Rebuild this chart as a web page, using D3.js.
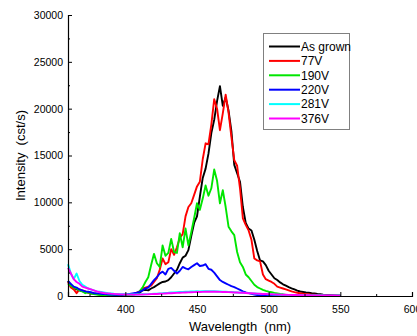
<!DOCTYPE html>
<html>
<head>
<meta charset="utf-8">
<script src="https://cdn.jsdelivr.net/npm/d3@7"></script>
<style>
  body { margin: 0; background: #fff; }
  svg { display: block; font-family: Arial, "Liberation Sans", sans-serif; }
</style>
</head>
<body>
<div id="chart"></div>
<script>
// sampling grid, nm
const wavelengths = d3.range(360, 551, 2);

const seriesNames = ['As grown', '77V', '190V', '220V', '281V', '376V'];
const seriesColors = ['#000000', '#ff0000', '#00e600', '#0000ff', '#00ffff', '#ff00ff'];

const asGrown = [
  1600, 1100, 900, 700, 600, 500, 450, 380, 300, 280,
  250, 200, 200, 150, 150, 120, 120, 100, 120, 100,
  120, 150, 150, 200, 300, 350, 600, 650, 600, 800,
  950, 1150, 1350, 1500, 1550, 1700, 2000, 2400, 2800, 3500,
  4100, 4300, 4900, 6400, 7800, 8500, 10600, 12600, 13600, 15200,
  17400, 18800, 20800, 22400, 20300, 21200, 19800, 17600, 14000, 13100,
  12200, 9500, 7800, 7200, 7000, 6000, 4800, 3800, 3700, 3300,
  2700, 2300, 1900, 1700, 1450, 1250, 1100, 950, 820, 700,
  580, 480, 430, 380, 350, 300, 280, 220, 200, 150,
  120, 100, 80, 60, 40, 30
];
const v77 = [
  1500, 900, 700, 300, 700, 600, 500, 350, 300, 250,
  220, 180, 150, 150, 120, 100, 100, 80, 100, 80,
  100, 120, 150, 200, 350, 500, 800, 900, 1000, 1100,
  1500, 1900, 2800, 4000, 3400, 3600, 5000, 4400, 5200, 6200,
  6600, 8500, 9500, 9900, 10800, 11700, 12200, 14600, 16300, 16200,
  18300, 21000, 20000, 17700, 19500, 21500, 19600, 17000, 14500, 13900,
  11500, 8300, 7600, 7000, 6000, 4000, 3800, 3700, 2300, 1800,
  1650, 1500, 1300, 1000, 900, 800, 700, 600, 500, 420,
  350, 300, 250, 200, 180, 150, 130, 100, 80, 70,
  60, 50, 40, 30, 30, 20
];
const v190 = [
  1300, 1100, 900, 800, 600, 500, 300, 400, 250, 200,
  150, 100, 100, 80, 50, 50, 30, 30, 30, 40,
  50, 80, 100, 150, 250, 500, 900, 1500, 2000, 3300,
  4500, 3500, 3100, 5400, 4300, 4600, 6100, 4700, 4600, 6700,
  5200, 7200, 5400, 6800, 8300, 9900, 9200, 10400, 11800, 10700,
  11500, 13500, 12300, 9900, 11300, 9500, 7400, 6900, 6500, 4700,
  3600, 3100, 2300, 2000, 1600, 1200, 950, 800, 650, 550,
  460, 400, 330, 280, 220, 180, 120, 100, 80, 70,
  60, 50, 50, 40, 40, 30, 30, 30, 20, 20,
  20, 20, 20, 20, 20, 20
];
const v220 = [
  1600, 1300, 1000, 900, 700, 600, 500, 450, 400, 300,
  280, 250, 200, 200, 150, 150, 130, 120, 150, 130,
  150, 200, 250, 300, 350, 450, 600, 800, 900, 1300,
  1700, 2000, 2400, 2600, 2300, 2900, 3000, 2700, 2400, 2700,
  3100, 2950, 2850, 3100, 3300, 3500, 3200, 3250, 3400, 2900,
  2800, 2500, 2100, 1700, 1500, 1350, 1200, 1050, 950, 800,
  650, 500, 380, 300, 220, 150, 100, 80, 60, 50,
  40, 40, 30, 30, 30, 30, 20, 20, 20, 20,
  20, 20, 20, 20, 20, 20, 20, 20, 20, 20,
  20, 20, 20, 20, 20, 20
];
const v281 = [
  3400, 2400, 1800, 2400, 1600, 1200, 1000, 800, 700, 600,
  500, 450, 400, 350, 300, 280, 250, 230, 200, 200,
  180, 170, 160, 160, 160, 170, 180, 190, 200, 220,
  240, 250, 280, 290, 330, 340, 370, 380, 410, 430,
  440, 460, 450, 480, 490, 500, 490, 510, 520, 500,
  510, 500, 480, 490, 460, 450, 430, 420, 400, 380,
  360, 350, 320, 310, 280, 270, 250, 230, 220, 200,
  190, 180, 160, 150, 140, 130, 120, 110, 100, 100,
  90, 80, 80, 70, 70, 60, 60, 50, 50, 50,
  40, 40, 40, 30, 30, 30
];
const v376 = [
  3000, 2400, 1800, 1500, 1300, 1000, 900, 800, 700, 600,
  500, 400, 350, 300, 280, 250, 230, 200, 180, 170,
  160, 150, 150, 140, 150, 150, 160, 170, 180, 200,
  210, 220, 240, 250, 270, 290, 300, 320, 330, 350,
  360, 380, 390, 400, 410, 420, 430, 440, 450, 460,
  460, 450, 450, 440, 430, 420, 410, 400, 380, 370,
  350, 340, 320, 300, 290, 270, 250, 240, 220, 210,
  200, 190, 170, 160, 150, 140, 130, 120, 110, 100,
  100, 90, 90, 80, 80, 70, 70, 60, 60, 60,
  50, 50, 50, 50, 40, 40
];
const seriesValues = [asGrown, v77, v190, v220, v281, v376];

const xTicks = [400, 450, 500, 550, 600];
const yTicks = [0, 5000, 10000, 15000, 20000, 25000, 30000];

const width = 417, height = 336;
const plotLeft = 68, plotRight = 412, plotTop = 15, plotBottom = 296;

const svg = d3.select('#chart').append('svg')
  .attr('width', width)
  .attr('height', height);

const x = d3.scaleLinear().domain([360, 600]).range([plotLeft, plotRight]);
const y = d3.scaleLinear().domain([0, 30000]).range([plotBottom, plotTop]);

// curves
const line = d3.line()
  .x((d, i) => x(wavelengths[i]))
  .y(d => y(d));

svg.append('g')
  .selectAll('path')
  .data(seriesValues)
  .enter()
  .append('path')
  .attr('d', line)
  .attr('fill', 'none')
  .attr('stroke', (d, i) => seriesColors[i])
  .attr('stroke-width', 1.9)
  .attr('stroke-linejoin', 'round');

// axes, ticks inside
const xAxis = svg.append('g')
  .attr('transform', `translate(0,${plotBottom})`)
  .call(d3.axisBottom(x).tickValues(xTicks).tickSize(-4).tickPadding(10));
xAxis.append('g')
  .call(d3.axisBottom(x).tickValues([375, 425, 475, 525, 575]).tickSize(-2).tickFormat(''))
  .select('.domain').remove();

const yAxis = svg.append('g')
  .attr('transform', `translate(${plotLeft},0)`)
  .call(d3.axisLeft(y).tickValues(yTicks).tickSize(-4).tickPadding(5).tickFormat(d3.format('d')));
yAxis.append('g')
  .call(d3.axisLeft(y).tickValues([2500, 7500, 12500, 17500, 22500, 27500]).tickSize(-2).tickFormat(''))
  .select('.domain').remove();

svg.selectAll('.domain').attr('stroke', '#000').attr('stroke-width', 1.2);
svg.selectAll('.tick line').attr('stroke', '#000');
svg.selectAll('.tick text')
  .attr('font-size', '10.5px')
  .attr('font-family', 'Arial, "Liberation Sans", sans-serif')
  .attr('fill', '#000');

// titles
svg.append('text')
  .attr('x', (plotLeft + plotRight) / 2)
  .attr('y', 331)
  .attr('text-anchor', 'middle')
  .attr('font-size', '13px')
  .style('white-space', 'pre')
  .text('Wavelength  (nm)');

svg.append('text')
  .attr('transform', `translate(25,${(plotTop + plotBottom) / 2}) rotate(-90)`)
  .attr('text-anchor', 'middle')
  .attr('font-size', '13px')
  .style('white-space', 'pre')
  .text('Intensity  (cst/s)');

// legend
const legend = svg.append('g');
legend.append('rect')
  .attr('x', 263.5).attr('y', 33.5)
  .attr('width', 86).attr('height', 96)
  .attr('fill', '#fff')
  .attr('stroke', '#808080');

const item = legend.selectAll('g.item')
  .data(seriesNames)
  .enter()
  .append('g')
  .attr('class', 'item')
  .attr('transform', (d, i) => `translate(0,${46.5 + i * 14.4})`);

item.append('line')
  .attr('x1', 269).attr('x2', 300)
  .attr('stroke', (d, i) => seriesColors[i])
  .attr('stroke-width', 2);

item.append('text')
  .attr('x', 301)
  .attr('dy', '0.36em')
  .attr('font-size', '12px')
  .text(d => d);
</script>
</body>
</html>
